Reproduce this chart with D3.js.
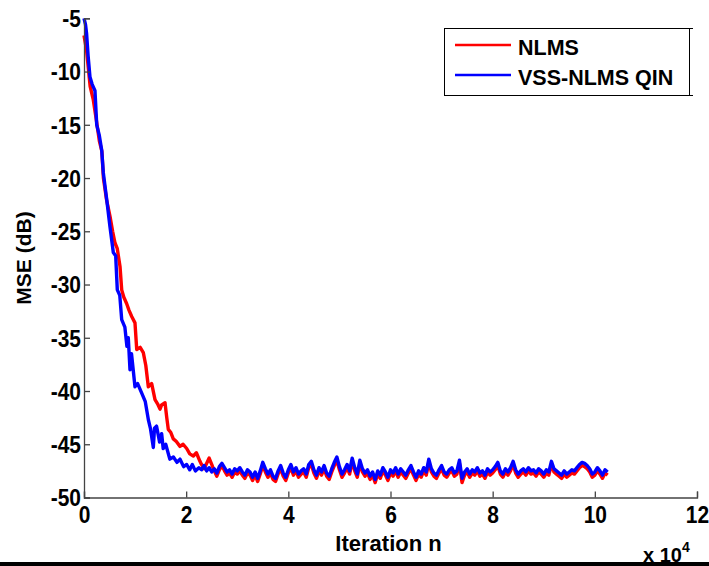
<!DOCTYPE html>
<html><head><meta charset="utf-8">
<script src="https://cdn.jsdelivr.net/npm/d3@7"></script>
<style>
html,body{margin:0;padding:0;background:#fff;}
svg{display:block;}
svg text{font-family:"Liberation Sans",Arial,sans-serif;font-weight:700;fill:#000;}
</style></head>
<body>
<svg id="c" width="709" height="566"></svg>
<script>
// ---- data (iteration in units of 10^4, MSE in dB) ----
const xTicks = [0, 2, 4, 6, 8, 10, 12];
const yTicks = [-50, -45, -40, -35, -30, -25, -20, -15, -10, -5];
const seriesNames = ["NLMS", "VSS-NLMS QIN"];
const seriesColors = ["#ff0000", "#0000ff"];

// transient parts
const nlmsTransX = [0,0.05,0.12,0.18,0.24,0.30,0.35,0.38,0.44,0.509,0.56,0.607,0.65,0.705,0.738,0.78,0.836,0.88,0.934,0.998,1.032,1.10,1.161,1.21,1.259,1.325,1.39,1.44,1.488,1.52,1.586,1.62,1.65,1.70,1.748,1.80,1.879,1.94,2.01,2.07,2.14,2.20,2.27];
const nlmsTransY = [-6.6,-8.0,-11.4,-12.6,-14.5,-16.5,-17.5,-20.0,-22.0,-23.6,-25.0,-26.1,-26.6,-28.3,-30.5,-31.2,-31.8,-32.4,-33.0,-33.6,-36.1,-35.9,-36.4,-37.6,-39.6,-39.3,-40.8,-41.2,-41.7,-41.3,-41.1,-42.5,-43.6,-43.9,-44.5,-44.7,-45.2,-45.0,-45.4,-45.9,-46.1,-45.8,-46.6];
const vssTransX = [0,0.03,0.05,0.08,0.117,0.16,0.215,0.249,0.30,0.347,0.378,0.444,0.509,0.574,0.62,0.652,0.70,0.738,0.80,0.84,0.867,0.90,0.93,0.998,1.05,1.13,1.20,1.26,1.30,1.357,1.38,1.42,1.48,1.52,1.55,1.60,1.68,1.75,1.82,1.88,1.95,2.01,2.07,2.12,2.18,2.25];
const vssTransY = [-5.0,-5.6,-6.4,-8.5,-10.5,-11.2,-11.8,-15.0,-16.0,-17.4,-19.5,-22.0,-24.6,-27.0,-27.3,-30.5,-31.0,-33.3,-34.0,-35.8,-35.0,-38.0,-36.5,-39.6,-39.3,-40.2,-41.0,-42.7,-43.5,-45.3,-43.5,-43.3,-44.8,-44.0,-45.4,-45.0,-46.4,-46.2,-46.7,-46.4,-47.1,-46.9,-47.4,-46.9,-47.5,-47.2];

// steady-state parts: iterations 2.30 .. 10.25 (x10^4), every 0.05
const steadyStart = 2.30, steadyStep = 0.05;
const nlmsSteady = [
-46.9,-47.3,-46.8,-46.3,-46.9,-47.5,-48.0,-47.4,-47.0,-47.5,-47.9,-47.7,-48.1,-47.6,-47.8,-47.5,-47.9,-48.2,-47.7,-47.9,
-48.4,-47.9,-48.5,-47.8,-47.0,-47.6,-48.1,-47.7,-48.3,-48.5,-47.8,-47.3,-48.0,-48.4,-47.7,-47.2,-47.9,-47.5,-48.1,-47.8,
-47.6,-48.1,-47.2,-46.9,-47.7,-48.2,-47.5,-47.9,-47.3,-48.0,-48.3,-47.6,-47.0,-46.5,-47.4,-48.1,-47.7,-47.2,-47.8,-46.6,
-47.5,-48.1,-46.8,-47.6,-48.0,-47.7,-48.3,-47.9,-48.6,-47.8,-48.2,-47.5,-47.9,-48.4,-47.7,-48.0,-47.5,-48.1,-47.6,-47.9,
-48.2,-47.7,-47.3,-47.9,-48.4,-47.8,-48.1,-47.5,-47.9,-46.7,-47.6,-48.0,-48.2,-47.7,-47.3,-47.9,-48.1,-47.7,-47.5,-48.0,
-47.8,-46.8,-48.6,-47.9,-47.6,-48.1,-47.7,-47.9,-47.5,-48.0,-47.8,-48.2,-47.6,-47.9,-47.7,-47.4,-47.0,-47.8,-48.1,-47.6,
-47.9,-47.5,-46.9,-47.7,-48.1,-47.8,-47.6,-47.9,-47.5,-47.8,-47.7,-48.0,-47.6,-47.8,-48.1,-47.7,-47.9,-46.9,-47.6,-47.8,
-48.0,-48.2,-47.8,-48.1,-47.9,-47.7,-47.8,-47.5,-47.2,-47.0,-47.1,-47.3,-47.6,-48.1,-47.9,-47.5,-47.8,-48.2,-47.7,-47.9];
const vssSteady = [
-47.4,-47.0,-47.5,-47.2,-47.6,-47.3,-47.7,-47.1,-46.8,-47.2,-47.6,-47.4,-47.8,-47.3,-47.5,-47.2,-47.6,-47.9,-47.4,-47.6,
-48.1,-47.6,-48.2,-47.5,-46.7,-47.3,-47.8,-47.4,-48.0,-48.2,-47.5,-47.0,-47.7,-48.1,-47.4,-46.9,-47.6,-47.2,-47.8,-47.5,
-47.3,-47.8,-46.9,-46.6,-47.4,-47.9,-47.2,-47.6,-47.0,-47.7,-48.0,-47.3,-46.7,-46.2,-47.1,-47.8,-47.4,-46.9,-47.5,-46.3,
-47.2,-47.8,-46.5,-47.3,-47.7,-47.4,-48.0,-47.6,-48.3,-47.5,-47.9,-47.2,-47.6,-48.1,-47.4,-47.7,-47.2,-47.8,-47.3,-47.6,
-47.9,-47.4,-47.0,-47.6,-48.1,-47.5,-47.8,-47.2,-47.6,-46.4,-47.3,-47.7,-47.9,-47.4,-47.0,-47.6,-47.8,-47.4,-47.2,-47.7,
-47.5,-46.5,-48.2,-47.6,-47.3,-47.8,-47.4,-47.6,-47.2,-47.7,-47.5,-47.9,-47.3,-47.6,-47.4,-47.1,-46.7,-47.5,-47.8,-47.3,
-47.6,-47.2,-46.6,-47.4,-47.8,-47.5,-47.3,-47.6,-47.2,-47.5,-47.4,-47.7,-47.3,-47.5,-47.8,-47.4,-47.6,-46.6,-47.3,-47.5,
-47.7,-47.9,-47.5,-47.8,-47.6,-47.4,-47.5,-47.2,-46.9,-46.7,-46.8,-47.0,-47.3,-47.8,-47.6,-47.2,-47.5,-47.9,-47.4,-47.6];

function buildSeries(tx, ty, steady) {
  const pts = tx.map((x, i) => [x, ty[i]]);
  steady.forEach((v, i) => pts.push([steadyStart + i * steadyStep, v]));
  return pts;
}
const series = [
  buildSeries(nlmsTransX, nlmsTransY, nlmsSteady),
  buildSeries(vssTransX, vssTransY, vssSteady)
];

// ---- layout ----
const svg = d3.select("#c");
const L = 84, R = 697, T = 18.3, B = 497.5;
const x = d3.scaleLinear().domain([0, 12]).range([L, R]);
const y = d3.scaleLinear().domain([-50, -5]).range([B, T]);
const axisColor = "#444";
const fmt = d => String(d);

// lines
const line = d3.line().x(d => x(d[0])).y(d => y(d[1]));
series.forEach((s, i) => {
  svg.append("path").datum(s)
    .attr("d", line)
    .attr("fill", "none")
    .attr("stroke", seriesColors[i])
    .attr("stroke-width", 3.4)
    .attr("stroke-linejoin", "round");
});

// y axis
const yAxis = svg.append("g").attr("transform", `translate(${L},0)`)
  .call(d3.axisLeft(y).tickValues(yTicks).tickSize(-6).tickFormat(fmt));
yAxis.attr("font-family", null).attr("font-size", null);
yAxis.select(".domain").attr("stroke", axisColor).attr("stroke-width", 1.3);
yAxis.selectAll(".tick line").attr("stroke", axisColor).attr("stroke-width", 1.3);
yAxis.selectAll(".tick text")
  .style("font-size", "21px").style("font-weight", "700")
  .attr("x", -3).attr("dy", "0.36em")
  .attr("transform", "scale(1,1.1)");

// x axis
const xAxis = svg.append("g").attr("transform", `translate(0,${B})`)
  .call(d3.axisBottom(x).tickValues(xTicks).tickSize(-6).tickFormat(fmt));
xAxis.attr("font-family", null).attr("font-size", null);
xAxis.select(".domain").attr("stroke", axisColor).attr("stroke-width", 1.3);
xAxis.selectAll(".tick line").attr("stroke", axisColor).attr("stroke-width", 1.3);
xAxis.selectAll(".tick text")
  .style("font-size", "21px").style("font-weight", "700")
  .attr("dy", null).attr("y", 23.5)
  .attr("transform", "scale(1,1.1)");

// axis titles
svg.append("text").attr("x", (L + R) / 2 - 2).attr("y", 551)
  .attr("text-anchor", "middle").style("font-size", "22px").text("Iteration n");
svg.append("text").attr("transform", `translate(31,258) rotate(-90)`)
  .attr("text-anchor", "middle").style("font-size", "21px").text("MSE (dB)");
const ex = svg.append("text").attr("x", 643).attr("y", 562).style("font-size", "20px");
ex.append("tspan").text("x 10");
ex.append("tspan").style("font-size", "14px").attr("dy", -10).text("4");

// legend
const lg = svg.append("g");
lg.append("rect").attr("x", 444.5).attr("y", 28.5).attr("width", 245).attr("height", 67)
  .attr("fill", "#fff").attr("stroke", "#000").attr("stroke-width", 1);
lg.append("line").attr("x1", 689).attr("x2", 693).attr("y1", 28.5).attr("y2", 28.5).attr("stroke", "#000");
lg.append("line").attr("x1", 689).attr("x2", 693).attr("y1", 95.5).attr("y2", 95.5).attr("stroke", "#000");
seriesNames.forEach((name, i) => {
  const yy = 45 + i * 30;
  lg.append("line").attr("x1", 455).attr("x2", 511).attr("y1", yy).attr("y2", yy)
    .attr("stroke", seriesColors[i]).attr("stroke-width", 2.5);
  lg.append("text").attr("x", 518).attr("y", yy + 9.5).style("font-size", "21.5px").text(name);
});

// bottom black bar
svg.append("rect").attr("x", 0).attr("y", 562).attr("width", 709).attr("height", 4).attr("fill", "#000");
</script>
</body></html>
